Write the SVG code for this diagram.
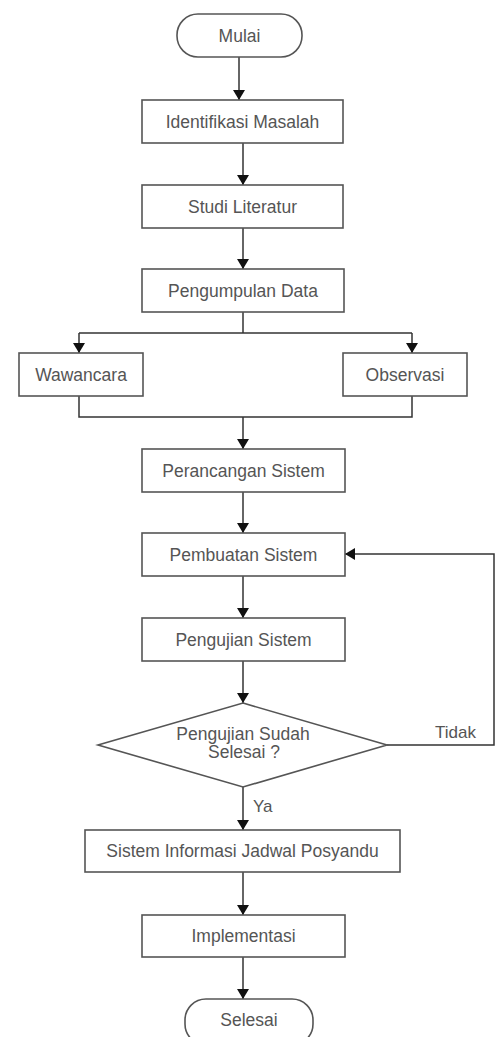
<svg xmlns="http://www.w3.org/2000/svg" width="496" height="1037" viewBox="0 0 496 1037">
<defs>
<marker id="ah" markerWidth="10" markerHeight="12" refX="10" refY="6" orient="auto" markerUnits="userSpaceOnUse">
<path d="M0,0 L10,6 L0,12 Z" fill="#111"/>
</marker>
<style>
.box{fill:#fff;stroke:#555;stroke-width:1.6}
.t{font-family:"Liberation Sans",Arial,sans-serif;font-size:17.5px;fill:#555;text-anchor:middle}
.lbl{font-family:"Liberation Sans",Arial,sans-serif;font-size:17px;fill:#555}
.c{fill:none;stroke:#333;stroke-width:1.5}
.ca{fill:none;stroke:#333;stroke-width:1.5;marker-end:url(#ah)}
</style>
</defs>
<rect width="496" height="1037" fill="#fff"/>
<g id="connectors">
<line class="ca" x1="239" y1="57" x2="239" y2="100"/>
<line class="ca" x1="243" y1="143" x2="243" y2="185"/>
<line class="ca" x1="243" y1="228" x2="243" y2="269"/>
<line class="c" x1="243" y1="312" x2="243" y2="333"/>
<line class="c" x1="79" y1="333" x2="412" y2="333"/>
<line class="ca" x1="79" y1="333" x2="79" y2="353"/>
<line class="ca" x1="412" y1="333" x2="412" y2="353"/>
<polyline class="c" points="79,396 79,417 412,417 412,396"/>
<line class="ca" x1="243" y1="417" x2="243" y2="449"/>
<line class="ca" x1="243" y1="492" x2="243" y2="533"/>
<line class="ca" x1="243" y1="576" x2="243" y2="618"/>
<line class="ca" x1="243" y1="661" x2="243" y2="703"/>
<line class="ca" x1="243" y1="787" x2="243" y2="830"/>
<polyline class="ca" points="387,745 494,745 494,554 345,554"/>
<line class="ca" x1="243" y1="872" x2="243" y2="915"/>
<line class="ca" x1="243" y1="957" x2="243" y2="999"/>
<text class="lbl" x="435" y="738">Tidak</text>
<text class="lbl" x="253" y="812">Ya</text>
</g>
<g id="mulai"><rect class="box" x="177" y="14" width="125" height="43" rx="21" ry="21"/><text class="t" x="239.5" y="42">Mulai</text></g>
<g id="identifikasi"><rect class="box" x="142" y="100" width="201" height="43"/><text class="t" x="242.5" y="128">Identifikasi Masalah</text></g>
<g id="studi"><rect class="box" x="142" y="185" width="201" height="43"/><text class="t" x="242.5" y="213">Studi Literatur</text></g>
<g id="pengumpulan"><rect class="box" x="142" y="269" width="202" height="43"/><text class="t" x="243" y="297">Pengumpulan Data</text></g>
<g id="wawancara"><rect class="box" x="19" y="353" width="124" height="43"/><text class="t" x="81" y="381">Wawancara</text></g>
<g id="observasi"><rect class="box" x="343" y="353" width="124" height="43"/><text class="t" x="405" y="381">Observasi</text></g>
<g id="perancangan"><rect class="box" x="142" y="449" width="203" height="43"/><text class="t" x="243.5" y="477">Perancangan Sistem</text></g>
<g id="pembuatan"><rect class="box" x="142" y="533" width="203" height="43"/><text class="t" x="243.5" y="561">Pembuatan Sistem</text></g>
<g id="pengujian"><rect class="box" x="142" y="618" width="203" height="43"/><text class="t" x="243.5" y="646">Pengujian Sistem</text></g>
<g id="keputusan"><polygon class="box" points="243,703 387,745 243,787 98,745"/><text class="t" x="243" y="740">Pengujian Sudah</text><text class="t" x="244" y="758">Selesai ?</text></g>
<g id="sistem"><rect class="box" x="85" y="830" width="315" height="42"/><text class="t" x="242.5" y="857">Sistem Informasi Jadwal Posyandu</text></g>
<g id="implementasi"><rect class="box" x="142" y="915" width="203" height="42"/><text class="t" x="243.5" y="942">Implementasi</text></g>
<g id="selesai"><rect class="box" x="185" y="999" width="128" height="46" rx="21" ry="21"/><text class="t" x="249" y="1026">Selesai</text></g>
</svg>
